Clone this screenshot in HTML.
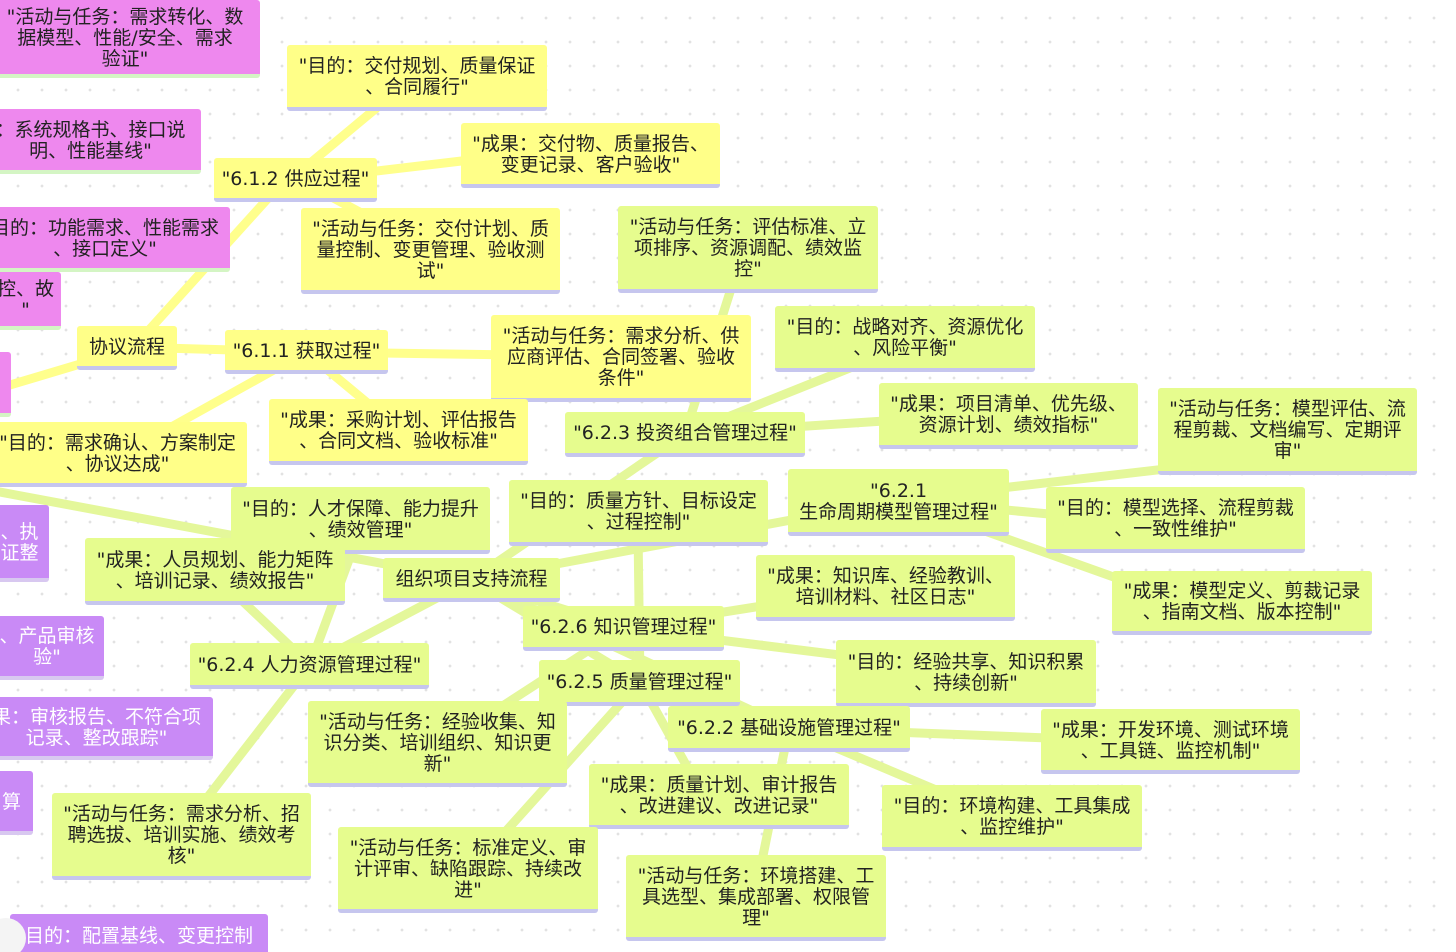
<!DOCTYPE html>
<html><head><meta charset="utf-8">
<style>
html,body{margin:0;width:1456px;height:952px;overflow:hidden;}
body{background:#fff;position:relative;font-family:"DejaVu Sans","Noto Sans CJK SC",sans-serif;}
.bg{position:absolute;left:0;top:0;width:1456px;height:952px;
background-image:radial-gradient(circle,#e2e2e2 1.2px,transparent 1.6px);background-size:24px 24px;background-position:6px 6px;}
svg{position:absolute;left:0;top:0}
.n{position:absolute;box-sizing:border-box;display:flex;align-items:center;justify-content:center;text-align:center;
font-size:19px;line-height:21px;color:#222;white-space:nowrap;border-radius:3px;padding-top:2px}
.y{background:#ffff88;border-bottom:4px solid #c6c6ee}
.g{background:#e6fc8e;border-bottom:4px solid #c6c6ee}
.p{background:#ee88ee;border-bottom:4px solid #d4f5c4}
.u{background:#c98af6;border-bottom:4px solid #d8c8f0;color:#fff}
</style></head><body>
<div class="bg"></div>
<svg width="1456" height="952">
<g stroke="#ffff8c" stroke-width="9" stroke-linecap="round">
<line x1="127" y1="350" x2="0" y2="388"/>
<line x1="140" y1="340" x2="280" y2="185"/>
<line x1="127" y1="347" x2="306" y2="352"/>
<line x1="290" y1="180" x2="380" y2="105"/>
<line x1="300" y1="180" x2="470" y2="160"/>
<line x1="300" y1="180" x2="430" y2="250"/>
<line x1="306" y1="352" x2="520" y2="355"/>
<line x1="306" y1="352" x2="400" y2="430"/>
<line x1="306" y1="352" x2="130" y2="450"/>
</g>
<g stroke="#e4f79a" stroke-width="9" stroke-linecap="round">
<line x1="471" y1="580" x2="0" y2="492"/>
<line x1="471" y1="580" x2="685" y2="434"/>
<line x1="471" y1="580" x2="898" y2="500"/>
<line x1="471" y1="580" x2="310" y2="665"/>
<line x1="471" y1="580" x2="640" y2="682"/>
<line x1="471" y1="580" x2="623" y2="628"/>
<line x1="471" y1="580" x2="789" y2="728"/>
<line x1="685" y1="434" x2="730" y2="292"/>
<line x1="685" y1="434" x2="850" y2="368"/>
<line x1="685" y1="434" x2="900" y2="420"/>
<line x1="898" y1="500" x2="1200" y2="465"/>
<line x1="898" y1="500" x2="1060" y2="515"/>
<line x1="898" y1="500" x2="1150" y2="590"/>
<line x1="310" y1="665" x2="360" y2="530"/>
<line x1="310" y1="665" x2="215" y2="575"/>
<line x1="310" y1="665" x2="190" y2="820"/>
<line x1="623" y1="628" x2="800" y2="600"/>
<line x1="623" y1="628" x2="920" y2="665"/>
<line x1="623" y1="628" x2="450" y2="740"/>
<line x1="640" y1="682" x2="638" y2="530"/>
<line x1="640" y1="682" x2="700" y2="790"/>
<line x1="640" y1="682" x2="480" y2="860"/>
<line x1="789" y1="728" x2="1100" y2="740"/>
<line x1="789" y1="728" x2="960" y2="800"/>
<line x1="789" y1="728" x2="756" y2="890"/>
</g>
</svg>
<div class="n p" style="left:-10px;top:0;width:270px;height:78px">"活动与任务：需求转化、数<br>据模型、性能/安全、需求<br>验证"</div>
<div class="n p" style="left:-20px;top:109px;width:221px;height:65px">：系统规格书、接口说<br>明、性能基线"</div>
<div class="n p" style="left:-20px;top:207px;width:250px;height:65px">目的：功能需求、性能需求<br>、接口定义"</div>
<div class="n p" style="left:-10px;top:272px;width:71px;height:58px">控、故<br>"</div>
<div class="n p" style="left:-10px;top:352px;width:21px;height:65px"></div>
<div class="n u" style="left:-10px;top:505px;width:59px;height:77px">、执<br>证整</div>
<div class="n u" style="left:-10px;top:616px;width:114px;height:64px">、产品审核<br>验"</div>
<div class="n u" style="left:-20px;top:697px;width:233px;height:63px">果：审核报告、不符合项<br>记录、整改跟踪"</div>
<div class="n u" style="left:-10px;top:771px;width:43px;height:64px">算</div>
<div class="n u" style="left:10px;top:914px;width:258px;height:50px;align-items:flex-start;padding-top:12px">目的：配置基线、变更控制</div>
<div style="position:absolute;left:-14px;top:918px;width:40px;height:40px;border-radius:50%;background:#f4f4f4"></div>

<div class="n y" style="left:287px;top:45px;width:260px;height:66px">"目的：交付规划、质量保证<br>、合同履行"</div>
<div class="n y" style="left:461px;top:123px;width:259px;height:65px">"成果：交付物、质量报告、<br>变更记录、客户验收"</div>
<div class="n y" style="left:214px;top:158px;width:163px;height:44px">"6.1.2 供应过程"</div>
<div class="n y" style="left:301px;top:208px;width:259px;height:86px">"活动与任务：交付计划、质<br>量控制、变更管理、验收测<br>试"</div>
<div class="n y" style="left:77px;top:326px;width:100px;height:44px">协议流程</div>
<div class="n y" style="left:225px;top:330px;width:163px;height:44px">"6.1.1 获取过程"</div>
<div class="n y" style="left:491px;top:315px;width:260px;height:87px">"活动与任务：需求分析、供<br>应商评估、合同签署、验收<br>条件"</div>
<div class="n y" style="left:269px;top:399px;width:259px;height:66px">"成果：采购计划、评估报告<br>、合同文档、验收标准"</div>
<div class="n y" style="left:-12px;top:422px;width:259px;height:65px">"目的：需求确认、方案制定<br>、协议达成"</div>

<div class="n g" style="left:618px;top:206px;width:260px;height:87px">"活动与任务：评估标准、立<br>项排序、资源调配、绩效监<br>控"</div>
<div class="n g" style="left:775px;top:306px;width:260px;height:66px">"目的：战略对齐、资源优化<br>、风险平衡"</div>
<div class="n g" style="left:565px;top:412px;width:240px;height:45px">"6.2.3 投资组合管理过程"</div>
<div class="n g" style="left:879px;top:383px;width:259px;height:66px">"成果：项目清单、优先级、<br>资源计划、绩效指标"</div>
<div class="n g" style="left:1158px;top:388px;width:259px;height:87px">"活动与任务：模型评估、流<br>程剪裁、文档编写、定期评<br>审"</div>
<div class="n g" style="left:788px;top:469px;width:221px;height:67px">"6.2.1<br>生命周期模型管理过程"</div>
<div class="n g" style="left:1046px;top:487px;width:259px;height:66px">"目的：模型选择、流程剪裁<br>、一致性维护"</div>
<div class="n g" style="left:1112px;top:571px;width:260px;height:64px">"成果：模型定义、剪裁记录<br>、指南文档、版本控制"</div>
<div class="n g" style="left:231px;top:487px;width:259px;height:67px">"目的：人才保障、能力提升<br>、绩效管理"</div>
<div class="n g" style="left:509px;top:480px;width:259px;height:66px">"目的：质量方针、目标设定<br>、过程控制"</div>
<div class="n g" style="left:85px;top:538px;width:260px;height:67px">"成果：人员规划、能力矩阵<br>、培训记录、绩效报告"</div>
<div class="n g" style="left:383px;top:558px;width:177px;height:44px">组织项目支持流程</div>
<div class="n g" style="left:756px;top:555px;width:259px;height:66px">"成果：知识库、经验教训、<br>培训材料、社区日志"</div>
<div class="n g" style="left:523px;top:606px;width:201px;height:45px">"6.2.6 知识管理过程"</div>
<div class="n g" style="left:190px;top:643px;width:239px;height:46px">"6.2.4 人力资源管理过程"</div>
<div class="n g" style="left:539px;top:660px;width:201px;height:46px">"6.2.5 质量管理过程"</div>
<div class="n g" style="left:836px;top:640px;width:260px;height:67px">"目的：经验共享、知识积累<br>、持续创新"</div>
<div class="n g" style="left:308px;top:701px;width:259px;height:86px">"活动与任务：经验收集、知<br>识分类、培训组织、知识更<br>新"</div>
<div class="n g" style="left:668px;top:706px;width:242px;height:46px">"6.2.2 基础设施管理过程"</div>
<div class="n g" style="left:1041px;top:709px;width:259px;height:65px">"成果：开发环境、测试环境<br>、工具链、监控机制"</div>
<div class="n g" style="left:589px;top:764px;width:260px;height:65px">"成果：质量计划、审计报告<br>、改进建议、改进记录"</div>
<div class="n g" style="left:882px;top:785px;width:260px;height:66px">"目的：环境构建、工具集成<br>、监控维护"</div>
<div class="n g" style="left:52px;top:793px;width:259px;height:87px">"活动与任务：需求分析、招<br>聘选拔、培训实施、绩效考<br>核"</div>
<div class="n g" style="left:338px;top:827px;width:260px;height:86px">"活动与任务：标准定义、审<br>计评审、缺陷跟踪、持续改<br>进"</div>
<div class="n g" style="left:626px;top:855px;width:260px;height:86px">"活动与任务：环境搭建、工<br>具选型、集成部署、权限管<br>理"</div>
</body></html>
